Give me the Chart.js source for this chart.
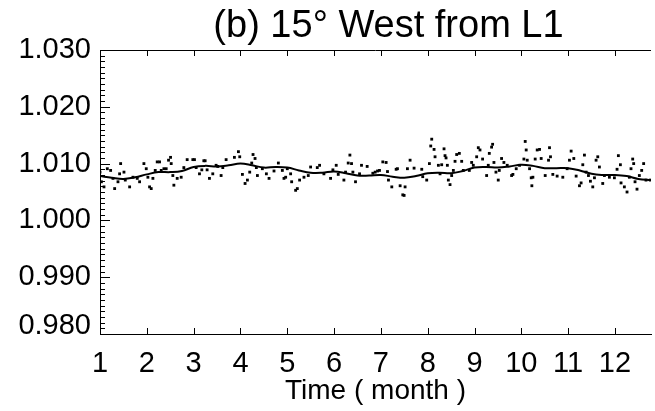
<!DOCTYPE html>
<html>
<head>
<meta charset="utf-8">
<script src="https://cdn.jsdelivr.net/npm/chart.js@4"></script>
<style>
  html,body{margin:0;padding:0;background:#fff;}
  #wrap{width:655px;height:411px;}
</style>
</head>
<body>
<div id="wrap"><canvas id="c" width="655" height="411"></canvas></div>
<script>
/* ===== Data ===== */
const TITLE = '(b) 15\u00B0 West from L1';
const X_TITLE = 'Time ( month )';
const X_TICKS = [1,2,3,4,5,6,7,8,9,10,11,12];
const Y_TICKS = [0.980,0.990,1.000,1.010,1.020,1.030];
const X_MIN = 1, X_MAX = 12.77;
const Y_MIN = 0.980, Y_MAX = 1.030, Y_MINOR = 0.001;

// smoothed curve (solid line)
const LINE_MONTH = [1.00,1.25,1.50,1.75,2.00,2.25,2.50,2.75,3.00,3.25,3.50,3.75,4.00,4.25,4.50,4.75,
  5.00,5.25,5.50,5.75,6.00,6.25,6.50,6.75,7.00,7.25,7.50,7.75,8.00,8.25,8.50,8.75,
  9.00,9.25,9.50,9.75,10.00,10.25,10.50,10.75,11.00,11.25,11.50,11.75,12.00,12.25,12.50,12.77];
const LINE_VALUE = [1.0078,1.0075,1.0073,1.0076,1.0081,1.0085,1.0085,1.0087,1.0094,1.0096,1.0095,1.0097,1.0100,1.0097,1.0093,1.0094,
  1.0093,1.0088,1.0084,1.0084,1.0086,1.0083,1.0079,1.0079,1.0080,1.0077,1.0075,1.0078,1.0083,1.0084,1.0083,1.0087,
  1.0093,1.0094,1.0093,1.0095,1.0098,1.0096,1.0092,1.0092,1.0092,1.0088,1.0082,1.0080,1.0080,1.0078,1.0073,1.0071];

// daily samples (dots)
const DOT_MONTH = [
  1.000,1.030,1.085,1.156,1.227,1.277,1.313,1.384,1.419,1.441,1.512,1.540,1.633,1.704,1.796,1.846,1.938,1.988,
  2.023,2.059,2.094,2.130,2.180,2.222,2.272,2.308,2.365,2.414,2.464,2.507,2.521,2.556,2.578,2.649,2.734,2.791,
  2.862,2.983,3.018,3.054,3.125,3.175,3.218,3.246,3.288,3.338,3.409,3.480,3.516,3.587,3.623,3.694,3.871,
  3.957,3.985,4.042,4.099,4.149,4.198,4.241,4.269,4.312,4.340,4.362,4.468,4.554,4.611,4.717,4.810,4.895,4.930,
  4.966,5.001,5.072,5.094,5.179,5.215,5.264,5.357,5.449,5.499,5.641,5.691,5.783,5.925,5.975,6.046,6.089,6.210,
  6.245,6.302,6.338,6.373,6.402,6.458,6.544,6.586,6.707,6.828,
  6.878,6.928,6.970,7.041,7.112,7.141,7.162,7.233,7.326,7.354,7.411,7.468,7.496,7.517,7.567,7.624,7.709,7.873,
  7.894,7.979,8.036,8.065,8.086,8.136,8.157,8.228,8.264,8.299,8.349,8.370,8.392,8.420,8.441,8.477,8.512,8.548,
  8.584,8.619,8.676,8.726,8.761,8.889,8.939,8.974,9.046,9.081,9.117,9.173,9.259,9.294,9.316,9.365,9.387,9.415,
  9.458,9.507,9.529,9.578,9.628,9.699,9.792,
  9.820,9.891,9.962,10.055,10.083,10.104,10.126,10.176,10.211,10.247,10.225,10.296,10.339,10.389,10.424,10.510,
  10.581,10.602,10.623,10.673,10.765,10.886,10.979,11.028,11.064,11.121,11.171,11.242,11.277,11.313,11.348,11.384,
  11.434,11.476,11.526,11.562,11.597,11.633,11.668,11.739,11.775,11.881,11.988,12.045,12.073,12.116,12.130,12.201,
  12.258,12.308,12.343,12.379,12.400,12.429,12.471,12.521,12.571,12.613,12.663,12.755];
const DOT_VALUE = [
  1.0085,1.0068,1.0059,1.0091,1.0088,1.0074,1.0056,1.0068,1.0082,1.0100,1.0085,1.0071,1.0059,1.0076,1.0074,1.0068,1.0100,1.0091,
  1.0076,1.0059,1.0056,1.0074,1.0088,1.0103,1.0103,1.0088,1.0091,1.0091,1.0106,1.0111,1.0100,1.0079,1.0062,1.0074,1.0076,1.0093,
  1.0107,1.0107,1.0107,1.0093,1.0082,1.0089,1.0105,1.0105,1.0089,1.0074,1.0082,1.0097,1.0095,1.0079,1.0093,1.0107,1.0111,
  1.0121,1.0112,1.0081,1.0065,1.0071,1.0085,1.0101,1.0116,1.0109,1.0093,1.0079,1.0091,1.0082,1.0074,1.0087,1.0101,1.0088,1.0074,
  1.0076,1.0091,1.0082,1.0068,1.0053,1.0056,1.0071,1.0076,1.0079,1.0094,1.0093,1.0097,1.0082,1.0074,1.0089,1.0097,1.0081,1.0071,
  1.0085,1.0101,1.0115,1.0100,1.0085,1.0068,1.0082,1.0097,1.0095,1.0083,
  1.0085,1.0087,1.0088,1.0103,1.0102,1.0086,1.0071,1.0059,1.0090,1.0091,1.0061,1.0045,1.0044,1.0059,1.0091,1.0106,1.0092,1.0090,
  1.0077,1.0071,1.0100,1.0131,1.0143,1.0125,1.0112,1.0097,1.0082,1.0098,1.0126,1.0114,1.0110,1.0097,1.0071,1.0063,1.0079,1.0088,
  1.0104,1.0116,1.0118,1.0104,1.0088,1.0088,1.0102,1.0097,1.0112,1.0128,1.0124,1.0108,1.0079,1.0097,1.0118,1.0129,1.0134,1.0102,
  1.0085,1.0071,1.0088,1.0109,1.0102,1.0097,1.0079,
  1.0081,1.0091,1.0097,1.0108,1.0139,1.0124,1.0106,1.0091,1.0075,1.0076,1.0061,1.0108,1.0124,1.0125,1.0109,1.0079,
  1.0106,1.0128,1.0112,1.0081,1.0078,1.0076,1.0091,1.0106,1.0122,1.0109,1.0078,1.0061,1.0066,1.0098,1.0115,1.0085,
  1.0079,1.0069,1.0059,1.0075,1.0106,1.0112,1.0094,1.0065,1.0079,1.0076,1.0075,1.0090,1.0114,1.0098,1.0066,1.0059,
  1.0050,1.0076,1.0091,1.0108,1.0100,1.0068,1.0055,1.0079,1.0088,1.0100,1.0071,1.0071];

const FONT = '"Liberation Sans", Arial, Helvetica, sans-serif';

/* ===== Frame, inward ticks, labels, title ===== */
const framePlugin = {
  id:'frame',
  afterDraw(chart){
    const {ctx, chartArea:{left,right,top,bottom}, scales:{x,y}} = chart;
    ctx.save();
    ctx.strokeStyle = '#000';
    ctx.lineWidth = 1;
    ctx.beginPath();
    ctx.moveTo(left+0.5, top); ctx.lineTo(left+0.5, bottom);
    ctx.moveTo(left, top+0.5); ctx.lineTo(right, top+0.5);
    // y minor + major ticks (inward)
    const n = Math.round((Y_MAX - Y_MIN)/Y_MINOR);
    for(let i=0;i<=n;i++){
      const v = Y_MIN + i*Y_MINOR;
      const py = Math.round(y.getPixelForValue(v)) + 0.5;
      const len = (i % 10 === 0) ? 10 : 5;
      ctx.moveTo(left, py); ctx.lineTo(left+len, py);
    }
    // x ticks top and bottom (inward)
    X_TICKS.forEach(m => {
      const px = Math.round(x.getPixelForValue(m)) + 0.5;
      ctx.moveTo(px, bottom); ctx.lineTo(px, bottom-6);
      ctx.moveTo(px, top); ctx.lineTo(px, top+6);
    });
    ctx.stroke();

    // y tick labels
    ctx.fillStyle = '#000';
    ctx.font = '29px ' + FONT;
    ctx.textAlign = 'right';
    ctx.textBaseline = 'middle';
    Y_TICKS.forEach(v => {
      const py = Math.min(y.getPixelForValue(v), bottom - 8);
      ctx.fillText(v.toFixed(3), left - 9, py);
    });

    // title
    ctx.font = '38px ' + FONT;
    ctx.textAlign = 'center';
    ctx.textBaseline = 'alphabetic';
    ctx.fillText(TITLE, (left + right)/2 + 13, 37);
    ctx.restore();
  }
};

/* ===== Chart ===== */
const ctx = document.getElementById('c').getContext('2d');
new Chart(ctx, {
  type:'scatter',
  plugins:[framePlugin],
  data:{
    datasets:[
      {label:'smooth', data:LINE_MONTH.map((m,i)=>({x:m,y:LINE_VALUE[i]})),
       showLine:true, borderColor:'#000', borderWidth:2, pointRadius:0, tension:0.4, fill:false},
      {label:'daily', data:DOT_MONTH.map((m,i)=>({x:m,y:DOT_VALUE[i]})),
       showLine:false, pointStyle:'rect', pointRadius:2, backgroundColor:'#000', borderWidth:0},
    ]
  },
  options:{
    responsive:false, animation:false,
    layout:{padding:{left:0, top:50, right:3, bottom:6}},
    plugins:{legend:{display:false}, tooltip:{enabled:false}, title:{display:false}},
    scales:{
      x:{
        type:'linear', min:X_MIN, max:X_MAX,
        afterBuildTicks: s => { s.ticks = X_TICKS.map(v => ({value:v})); },
        afterFit: s => { s.height = 71; },
        grid:{display:false, drawTicks:false},
        border:{display:true, color:'#000', width:1},
        ticks:{color:'#000', padding:15, maxRotation:0, autoSkip:false,
               font:{family:FONT, size:29, lineHeight:1}, callback:v => String(v)},
        title:{display:true, text:X_TITLE, color:'#000', padding:{top:0,bottom:0},
               font:{family:FONT, size:28, lineHeight:1}}
      },
      y:{
        type:'linear', min:Y_MIN, max:Y_MAX,
        afterFit: s => { s.width = 100; },
        grid:{display:false, drawTicks:false},
        border:{display:false},
        ticks:{display:false}
      }
    }
  }
});
</script>
</body>
</html>
